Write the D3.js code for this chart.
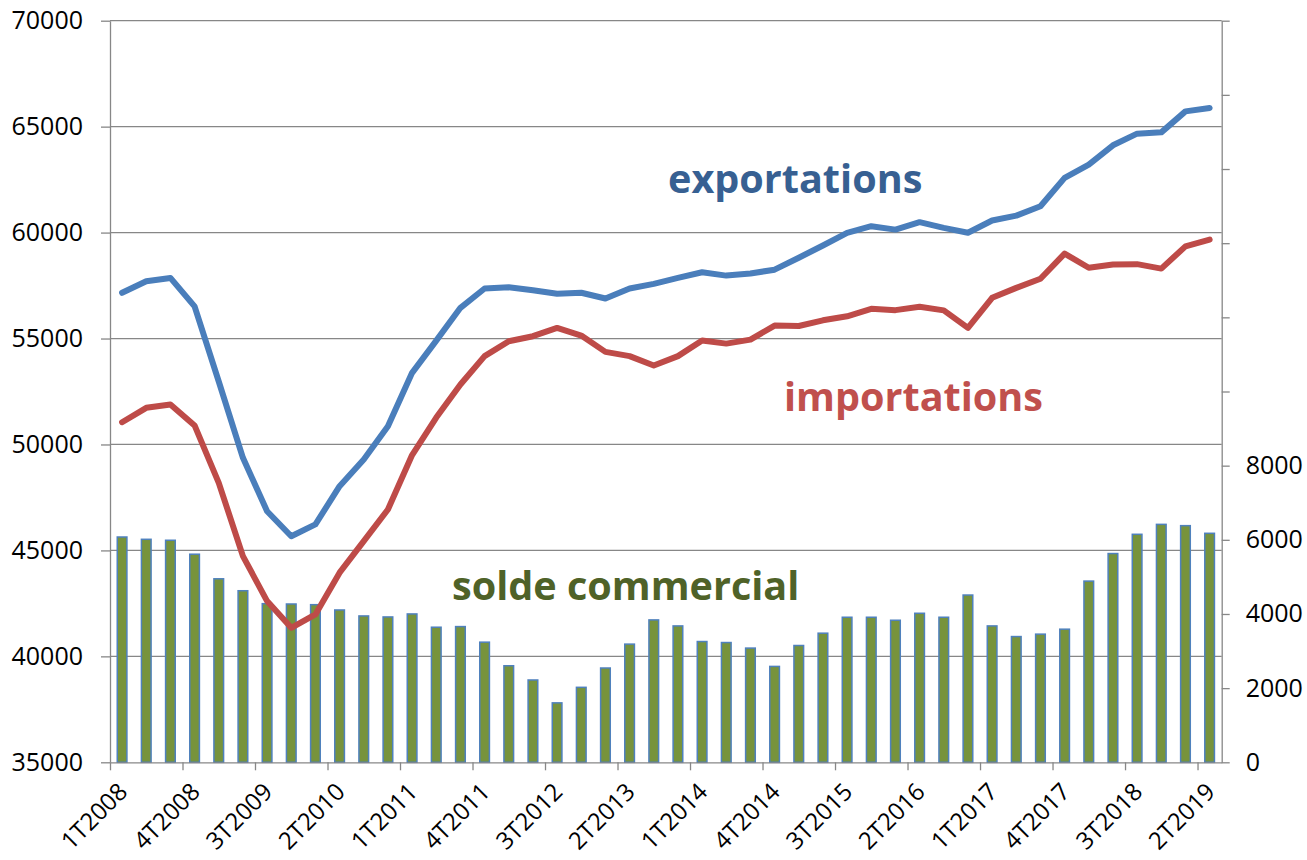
<!DOCTYPE html>
<html>
<head>
<meta charset="utf-8">
<script src="https://cdn.jsdelivr.net/npm/d3@7"></script>
<style>
  html, body { margin: 0; padding: 0; background: #fff; }
  svg { display: block; }
</style>
</head>
<body>
<svg id="chart" width="1307" height="860"></svg>
<script>
const categories = ["1T2008","2T2008","3T2008","4T2008","1T2009","2T2009","3T2009","4T2009",
  "1T2010","2T2010","3T2010","4T2010","1T2011","2T2011","3T2011","4T2011",
  "1T2012","2T2012","3T2012","4T2012","1T2013","2T2013","3T2013","4T2013",
  "1T2014","2T2014","3T2014","4T2014","1T2015","2T2015","3T2015","4T2015",
  "1T2016","2T2016","3T2016","4T2016","1T2017","2T2017","3T2017","4T2017",
  "1T2018","2T2018","3T2018","4T2018","1T2019","2T2019"];

const exportations = [57160, 57700, 57860, 56520, 52970, 49370, 46850, 45670, 46230, 48030,
  49290, 50860, 53380, 54900, 56450, 57360, 57420, 57280, 57110, 57160,
  56890, 57360, 57580, 57860, 58130, 57970, 58070, 58250, 58810, 59390,
  59990, 60300, 60140, 60490, 60220, 59990, 60570, 60800, 61240, 62580,
  63210, 64120, 64670, 64730, 65720, 65880];

const importations = [51050, 51730, 51890, 50900, 48190, 44730, 42610, 41350, 41980, 43950,
  45440, 46930, 49500, 51270, 52830, 54170, 54870, 55110, 55500, 55140,
  54370, 54170, 53730, 54170, 54910, 54760, 54950, 55610, 55590, 55860,
  56050, 56400, 56340, 56500, 56330, 55500, 56920, 57390, 57820, 59010,
  58340, 58490, 58510, 58300, 59350, 59670];

const soldeCommercial = [6076, 6014, 5988, 5612, 4949, 4627, 4278, 4269, 4251, 4108,
  3947, 3920, 4001, 3643, 3660, 3240, 2604, 2220, 1603, 2022,
  2543, 3187, 3840, 3678, 3257, 3230, 3080, 2586, 3150, 3482,
  3912, 3912, 3831, 4019, 3912, 4511, 3678, 3391, 3456, 3590,
  4887, 5630, 6149, 6417, 6382, 6176];

const leftTicks = [35000, 40000, 45000, 50000, 55000, 60000, 65000, 70000];
const rightTicks = [0, 2000, 4000, 6000, 8000, 10000, 12000, 14000, 16000, 18000, 20000];
const rightLabelMax = 8000;
const labelEvery = 3;

const seriesLabels = [
  {text: "exportations", color: "#376092", x: 668, y: 193},
  {text: "importations", color: "#C0504D", x: 784, y: 411},
  {text: "solde commercial", color: "#4F6228", x: 452, y: 600}
];

const L = 110, R = 1221.7, T = 20.7, B = 762.3;
const gridColor = "#878787";
const font = "'Open Sans', 'Noto Sans', sans-serif";

const svg = d3.select("#chart");

const x = d3.scaleBand().domain(categories).range([L, R]).padding(0);
const xi = d3.scaleLinear().domain([0, categories.length]).range([L, R]);
const yL = d3.scaleLinear().domain([35000, 70000]).range([B, T]);
const yR = d3.scaleLinear().domain([0, 20000]).range([B, T]);

// gridlines
svg.append("g").selectAll("line").data(leftTicks.filter(d => d > 35000)).join("line")
  .attr("x1", L).attr("x2", R).attr("y1", d => yL(d)).attr("y2", d => yL(d))
  .attr("stroke", gridColor).attr("stroke-width", 1.3);

// bars
const bw = x.bandwidth() * 0.4;
svg.append("g").selectAll("rect").data(soldeCommercial).join("rect")
  .attr("x", (d, i) => x(categories[i]) + x.bandwidth() / 2 - bw / 2)
  .attr("width", bw)
  .attr("y", d => yR(d))
  .attr("height", d => B - yR(d))
  .attr("fill", "#77933C")
  .attr("stroke", "#4F81BD")
  .attr("stroke-width", 1.5);

// axes
function styleAxis(g) {
  g.select(".domain").attr("stroke", gridColor).attr("stroke-width", 1.3);
  g.selectAll(".tick line").attr("stroke", gridColor).attr("stroke-width", 1.3);
  g.selectAll("text").attr("fill", "#000").style("font-family", font).style("font-size", "25px");
}

svg.append("g").attr("transform", `translate(${L},0)`)
  .call(d3.axisLeft(yL).tickValues(leftTicks).tickSize(9).tickSizeOuter(0).tickPadding(18).tickFormat(d3.format("d")))
  .call(styleAxis);

svg.append("g").attr("transform", `translate(${R},0)`)
  .call(d3.axisRight(yR).tickValues(rightTicks).tickSize(8).tickSizeOuter(0).tickPadding(16)
    .tickFormat(d => d <= rightLabelMax ? d3.format("d")(d) : ""))
  .call(styleAxis);

// bottom axis: tick marks at category boundaries
const tickIdx = d3.range(0, categories.length, labelEvery);
svg.append("g").attr("transform", `translate(0,${B})`)
  .call(d3.axisBottom(xi).tickValues(tickIdx).tickSize(8).tickSizeOuter(0).tickFormat(""))
  .call(styleAxis);

// bottom labels at category centers, rotated
const labelCats = categories.filter((c, i) => i % labelEvery === 0);
const lab = svg.append("g").attr("transform", `translate(0,${B})`)
  .call(d3.axisBottom(x).tickValues(labelCats).tickSize(0).tickPadding(0));
lab.select(".domain").remove();
lab.selectAll("text")
  .attr("fill", "#000").style("font-family", font).style("font-size", "24px")
  .attr("text-anchor", "end")
  .attr("dy", "0.35em")
  .attr("y", 0)
  .attr("transform", "translate(1,25) rotate(-45)");

// lines
const lineGen = (vals) => d3.line()
  .x((d, i) => x(categories[i]) + x.bandwidth() / 2)
  .y(d => yL(d))(vals);

svg.append("path").attr("d", lineGen(importations))
  .attr("fill", "none").attr("stroke", "#BE4B48").attr("stroke-width", 6)
  .attr("stroke-linejoin", "round").attr("stroke-linecap", "round");
svg.append("path").attr("d", lineGen(exportations))
  .attr("fill", "none").attr("stroke", "#4A7EBB").attr("stroke-width", 6)
  .attr("stroke-linejoin", "round").attr("stroke-linecap", "round");

// series labels
svg.append("g").selectAll("text").data(seriesLabels).join("text")
  .attr("x", d => d.x).attr("y", d => d.y)
  .attr("fill", d => d.color)
  .style("font-family", font).style("font-weight", "bold").style("font-size", "39.6px")
  .text(d => d.text);
</script>
</body>
</html>
